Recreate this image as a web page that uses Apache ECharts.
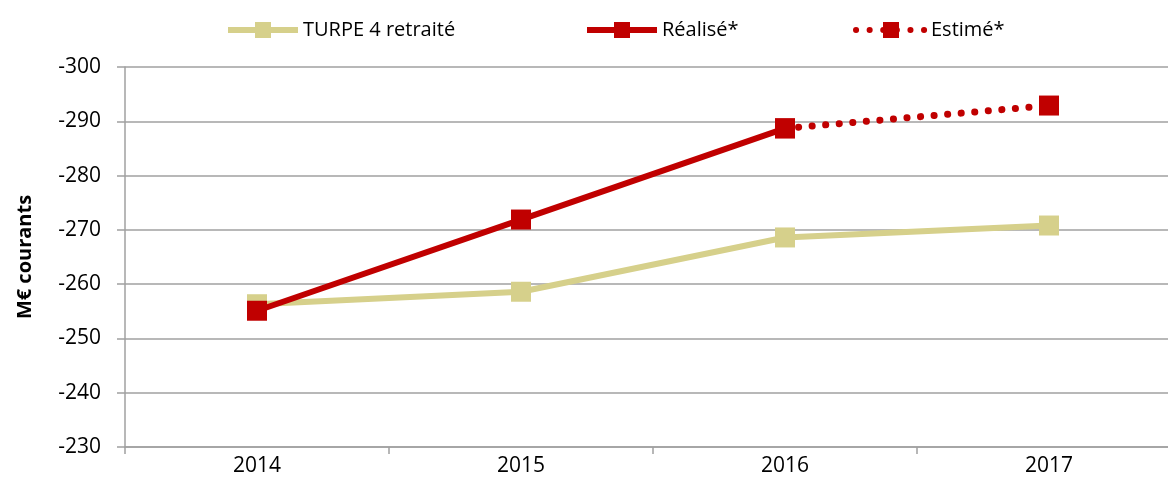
<!DOCTYPE html>
<html style="height: 100%">
<head>
    <meta charset="UTF-8">
    <script src="https://cdn.jsdelivr.net/npm/echarts@6/dist/echarts.min.js"></script>
</head>
<body style="margin: 0; background: #FFF; overflow: hidden;">
<!-- le graphique déborde à droite, comme dans l'original -->
<div id="chart" style="width: 1195px; height: 490px;"></div>
<script>
    // valeurs (M€ courants)
    var years = ['2014', '2015', '2016', '2017'];
    var turpe = [-256.3, -258.6, -268.6, -270.8];
    var realise = [-255.1, -271.9, -288.7, null];
    var estime = [null, null, -288.7, -292.9];
    var yTicks = [-300, -290, -280, -270, -260, -250, -240, -230];

    var beige = '#D6D08B';
    var rouge = '#C00000';
    var gris = '#A0A0A0';
    var police = '"Open Sans", "Noto Sans", sans-serif';

    var chart = echarts.init(document.getElementById('chart'));

    function legende(nom, gauche) {
        return {
            data: [nom],
            top: 15,
            left: gauche,
            itemWidth: 70,
            itemHeight: 20,
            itemGap: 8,
            lineStyle: {width: 6},
            textStyle: {fontFamily: police, fontSize: 20, color: '#000'}
        };
    }

    var option = {
        animation: false,
        legend: [
            legende('TURPE 4 retraité', 220),
            legende('Réalisé*', 579),
            legende('Estimé*', 848)
        ],
        grid: {left: 125, top: 67, width: 1056, height: 380},
        xAxis: {
            type: 'category',
            data: years,
            boundaryGap: true,
            axisLine: {lineStyle: {color: gris, width: 1.5}},
            axisTick: {show: true, length: 7, lineStyle: {color: gris, width: 1.5}},
            axisLabel: {fontFamily: police, fontSize: 21, color: '#000', margin: 9}
        },
        yAxis: {
            type: 'value',
            inverse: true,
            min: yTicks[0],
            max: yTicks[yTicks.length - 1],
            interval: 10,
            name: 'M€ courants',
            nameLocation: 'middle',
            nameGap: 90,
            nameTextStyle: {fontFamily: police, fontSize: 20, fontWeight: 'bold', color: '#000'},
            axisLine: {show: true, lineStyle: {color: gris, width: 1.5}},
            axisTick: {show: true, length: 8, lineStyle: {color: gris, width: 1.5}},
            splitLine: {lineStyle: {color: gris, width: 1.5}},
            axisLabel: {fontFamily: police, fontSize: 21, color: '#000', margin: 24}
        },
        series: [
            {
                name: 'TURPE 4 retraité',
                type: 'line',
                data: turpe,
                z: 2,
                symbol: 'rect',
                symbolSize: 20,
                color: beige,
                lineStyle: {color: beige, width: 6},
                itemStyle: {color: beige}
            },
            {
                name: 'Estimé*',
                type: 'line',
                data: estime,
                z: 3,
                symbol: 'rect',
                symbolSize: 20,
                color: rouge,
                lineStyle: {color: rouge, width: 7, type: [0.1, 13.5], cap: 'round'},
                itemStyle: {color: rouge}
            },
            {
                name: 'Réalisé*',
                type: 'line',
                data: realise,
                z: 4,
                symbol: 'rect',
                symbolSize: 20,
                color: rouge,
                lineStyle: {color: rouge, width: 6},
                itemStyle: {color: rouge}
            }
        ]
    };

    chart.setOption(option, true);
</script>
</body>
</html>
